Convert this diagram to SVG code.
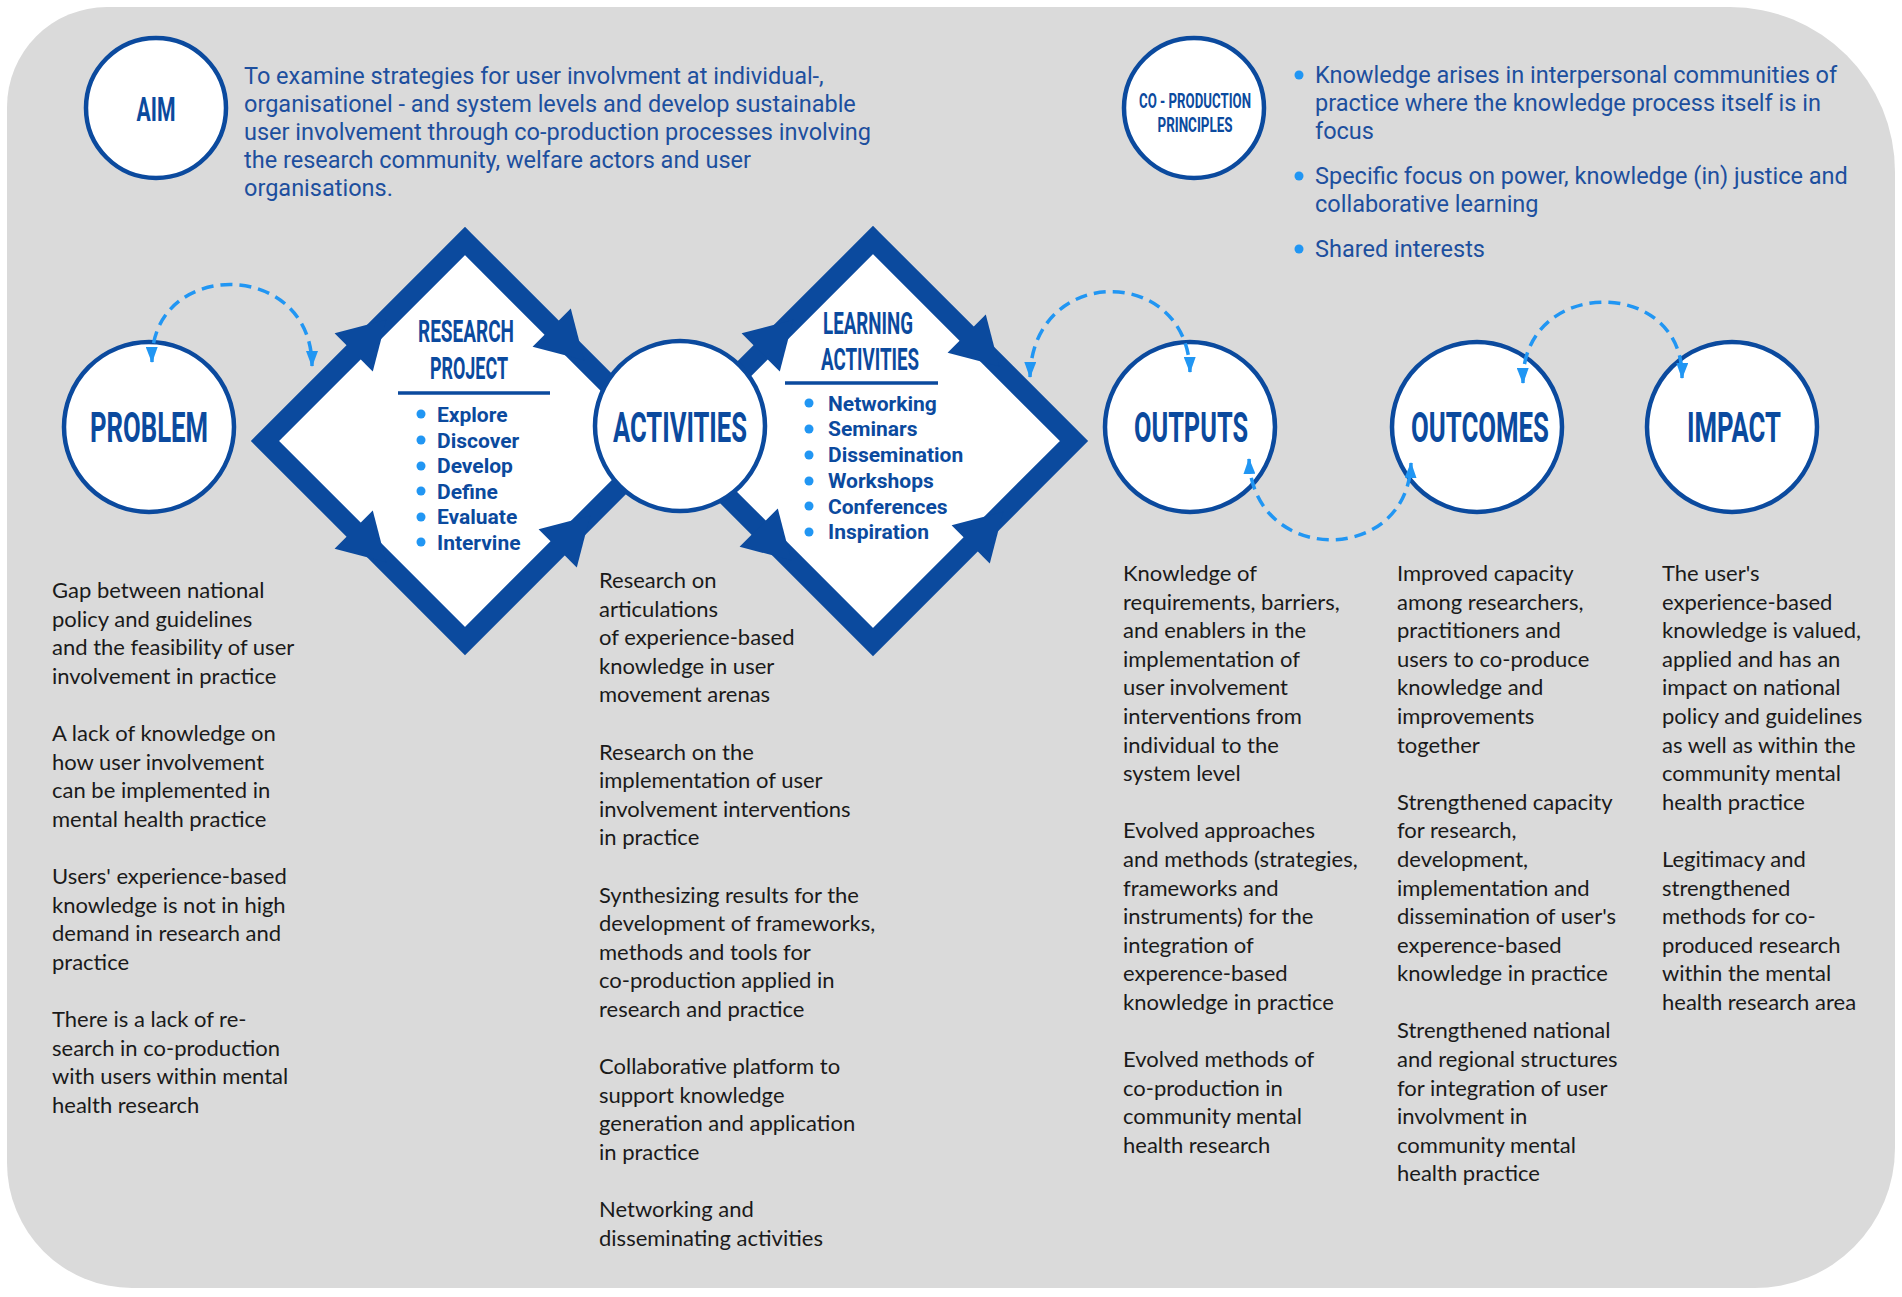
<svg xmlns="http://www.w3.org/2000/svg" xmlns:xlink="http://www.w3.org/1999/xlink" width="1902" height="1297" viewBox="0 0 1902 1297">
<style>
.bg{fill:#dadada}
.node{fill:#fff;stroke:#0b4a9e;stroke-width:4.5}
.dia{fill:#fff;stroke:#0b4a9e;stroke-width:20;stroke-linejoin:miter}
.hd{font-family:Roboto,"Liberation Sans",sans-serif;font-weight:700;fill:#0b4a9e;text-anchor:middle}
.li{font-family:Roboto,"Liberation Sans",sans-serif;font-weight:700;font-size:21px;fill:#0b4a9e}
.bl{fill:#2196f3}
.intro{font-family:Roboto,"Liberation Sans",sans-serif;font-size:23.5px;fill:#1d4f9e}
.body{font-family:Lato,"Liberation Sans",sans-serif;font-size:22px;fill:#1a1a1a}
.dash{fill:none;stroke:#2196f3;stroke-width:3.5;stroke-dasharray:12 7}
.ah{fill:#0b4a9e}
</style>
<defs>
<marker id="tip" viewBox="0 0 16 12" refX="15" refY="6" markerWidth="16" markerHeight="12" markerUnits="userSpaceOnUse" orient="auto-start-reverse">
<path d="M0,0 L16,6 L0,12 Z" fill="#2196f3"/>
</marker>
<path id="darr" d="M-16,-27 L30,0 L-16,27 Z"/>
</defs>

<path class="bg" d="M107,7 H1730 A165,165 0 0 1 1895,172 V1148 A140,140 0 0 1 1755,1288 H132 A125,125 0 0 1 7,1163 V107 A100,100 0 0 1 107,7 Z"/>

<g id="aim">
<circle class="node" cx="156" cy="108" r="70"/>
<text class="hd" x="156" y="121" font-size="34" textLength="39" lengthAdjust="spacingAndGlyphs">AIM</text>
<text class="intro" x="244" y="84">To examine strategies for user involvment at individual-,</text>
<text class="intro" x="244" y="112">organisationel - and system levels and develop sustainable</text>
<text class="intro" x="244" y="140">user involvement through co-production processes involving</text>
<text class="intro" x="244" y="168">the research community, welfare actors and user</text>
<text class="intro" x="244" y="196">organisations.</text>
</g>

<g id="principles">
<circle class="node" cx="1194" cy="108" r="70"/>
<text class="hd" x="1195" y="108" font-size="21" textLength="112" lengthAdjust="spacingAndGlyphs">CO - PRODUCTION</text>
<text class="hd" x="1195" y="132" font-size="21" textLength="75" lengthAdjust="spacingAndGlyphs">PRINCIPLES</text>
<circle class="bl" cx="1299" cy="75" r="4.5"/>
<text class="intro" x="1315" y="83">Knowledge arises in interpersonal communities of</text>
<text class="intro" x="1315" y="111">practice where the knowledge process itself is in</text>
<text class="intro" x="1315" y="139">focus</text>
<circle class="bl" cx="1299" cy="176" r="4.5"/>
<text class="intro" x="1315" y="184">Specific focus on power, knowledge (in) justice and</text>
<text class="intro" x="1315" y="212">collaborative learning</text>
<circle class="bl" cx="1299" cy="249" r="4.5"/>
<text class="intro" x="1315" y="257">Shared interests</text>
</g>

<g id="research-project">
<polygon class="dia" points="465,241 665,441 465,641 265,441"/>
<use href="#darr" class="ah" transform="translate(365,341) rotate(-45)"/>
<use href="#darr" class="ah" transform="translate(563,339) rotate(45)"/>
<use href="#darr" class="ah" transform="translate(365,541) rotate(45)"/>
<use href="#darr" class="ah" transform="translate(569,537) rotate(-45)"/>
<text class="hd" x="466" y="342" font-size="32" textLength="96" lengthAdjust="spacingAndGlyphs">RESEARCH</text>
<text class="hd" x="469" y="379" font-size="32" textLength="78" lengthAdjust="spacingAndGlyphs">PROJECT</text>
<line x1="398" y1="393" x2="550" y2="393" stroke="#0b4a9e" stroke-width="3.5"/>
<circle class="bl" cx="421" cy="414" r="4.5"/><text class="li" x="437" y="422">Explore</text>
<circle class="bl" cx="421" cy="440" r="4.5"/><text class="li" x="437" y="448">Discover</text>
<circle class="bl" cx="421" cy="466" r="4.5"/><text class="li" x="437" y="473">Develop</text>
<circle class="bl" cx="421" cy="491" r="4.5"/><text class="li" x="437" y="499">Define</text>
<circle class="bl" cx="421" cy="517" r="4.5"/><text class="li" x="437" y="524">Evaluate</text>
<circle class="bl" cx="421" cy="542" r="4.5"/><text class="li" x="437" y="550">Intervine</text>
</g>

<g id="learning-activities">
<polygon class="dia" points="873,240 1074,441 873,642 672,441"/>
<use href="#darr" class="ah" transform="translate(772,341) rotate(-45)"/>
<use href="#darr" class="ah" transform="translate(978,345) rotate(45)"/>
<use href="#darr" class="ah" transform="translate(770,539) rotate(45)"/>
<use href="#darr" class="ah" transform="translate(982,533) rotate(-45)"/>
<text class="hd" x="868" y="334" font-size="31" textLength="90" lengthAdjust="spacingAndGlyphs">LEARNING</text>
<text class="hd" x="870" y="370" font-size="31" textLength="98" lengthAdjust="spacingAndGlyphs">ACTIVITIES</text>
<line x1="785" y1="383" x2="938" y2="383" stroke="#0b4a9e" stroke-width="3.5"/>
<circle class="bl" cx="809" cy="403" r="4.5"/><text class="li" x="828" y="411">Networking</text>
<circle class="bl" cx="809" cy="429" r="4.5"/><text class="li" x="828" y="436">Seminars</text>
<circle class="bl" cx="809" cy="455" r="4.5"/><text class="li" x="828" y="462">Dissemination</text>
<circle class="bl" cx="809" cy="481" r="4.5"/><text class="li" x="828" y="488">Workshops</text>
<circle class="bl" cx="809" cy="506" r="4.5"/><text class="li" x="828" y="514">Conferences</text>
<circle class="bl" cx="809" cy="532" r="4.5"/><text class="li" x="828" y="539">Inspiration</text>
</g>

<g id="problem">
<circle class="node" cx="149" cy="427" r="85"/>
<text class="hd" x="149" y="442" font-size="42" textLength="118" lengthAdjust="spacingAndGlyphs">PROBLEM</text>
<text class="body" x="52" y="598">Gap between national</text>
<text class="body" x="52" y="627">policy and guidelines</text>
<text class="body" x="52" y="655">and the feasibility of user</text>
<text class="body" x="52" y="684">involvement in practice</text>
<text class="body" x="52" y="741">A lack of knowledge on</text>
<text class="body" x="52" y="770">how user involvement</text>
<text class="body" x="52" y="798">can be implemented in</text>
<text class="body" x="52" y="827">mental health practice</text>
<text class="body" x="52" y="884">Users' experience-based</text>
<text class="body" x="52" y="913">knowledge is not in high</text>
<text class="body" x="52" y="941">demand in research and</text>
<text class="body" x="52" y="970">practice</text>
<text class="body" x="52" y="1027">There is a lack of re-</text>
<text class="body" x="52" y="1056">search in co-production</text>
<text class="body" x="52" y="1084">with users within mental</text>
<text class="body" x="52" y="1113">health research</text>
</g>

<g id="activities">
<circle class="node" cx="680" cy="426" r="85"/>
<text class="hd" x="680" y="442" font-size="42" textLength="134" lengthAdjust="spacingAndGlyphs">ACTIVITIES</text>
<text class="body" x="599" y="588">Research on</text>
<text class="body" x="599" y="617">articulations</text>
<text class="body" x="599" y="645">of experience-based</text>
<text class="body" x="599" y="674">knowledge in user</text>
<text class="body" x="599" y="702">movement arenas</text>
<text class="body" x="599" y="760">Research on the</text>
<text class="body" x="599" y="788">implementation of user</text>
<text class="body" x="599" y="817">involvement interventions</text>
<text class="body" x="599" y="845">in practice</text>
<text class="body" x="599" y="903">Synthesizing results for the</text>
<text class="body" x="599" y="931">development of frameworks,</text>
<text class="body" x="599" y="960">methods and tools for</text>
<text class="body" x="599" y="988">co-production applied in</text>
<text class="body" x="599" y="1017">research and practice</text>
<text class="body" x="599" y="1074">Collaborative platform to</text>
<text class="body" x="599" y="1103">support knowledge</text>
<text class="body" x="599" y="1131">generation and application</text>
<text class="body" x="599" y="1160">in practice</text>
<text class="body" x="599" y="1217">Networking and</text>
<text class="body" x="599" y="1246">disseminating activities</text>
</g>

<g id="outputs">
<circle class="node" cx="1190" cy="427" r="85"/>
<text class="hd" x="1191" y="442" font-size="42" textLength="114" lengthAdjust="spacingAndGlyphs">OUTPUTS</text>
<text class="body" x="1123" y="581">Knowledge of</text>
<text class="body" x="1123" y="610">requirements, barriers,</text>
<text class="body" x="1123" y="638">and enablers in the</text>
<text class="body" x="1123" y="667">implementation of</text>
<text class="body" x="1123" y="695">user involvement</text>
<text class="body" x="1123" y="724">interventions from</text>
<text class="body" x="1123" y="753">individual to the</text>
<text class="body" x="1123" y="781">system level</text>
<text class="body" x="1123" y="838">Evolved approaches</text>
<text class="body" x="1123" y="867">and methods (strategies,</text>
<text class="body" x="1123" y="896">frameworks and</text>
<text class="body" x="1123" y="924">instruments) for the</text>
<text class="body" x="1123" y="953">integration of</text>
<text class="body" x="1123" y="981">experence-based</text>
<text class="body" x="1123" y="1010">knowledge in practice</text>
<text class="body" x="1123" y="1067">Evolved methods of</text>
<text class="body" x="1123" y="1096">co-production in</text>
<text class="body" x="1123" y="1124">community mental</text>
<text class="body" x="1123" y="1153">health research</text>
</g>

<g id="outcomes">
<circle class="node" cx="1477" cy="427" r="85"/>
<text class="hd" x="1480" y="442" font-size="42" textLength="138" lengthAdjust="spacingAndGlyphs">OUTCOMES</text>
<text class="body" x="1397" y="581">Improved capacity</text>
<text class="body" x="1397" y="610">among researchers,</text>
<text class="body" x="1397" y="638">practitioners and</text>
<text class="body" x="1397" y="667">users to co-produce</text>
<text class="body" x="1397" y="695">knowledge and</text>
<text class="body" x="1397" y="724">improvements</text>
<text class="body" x="1397" y="753">together</text>
<text class="body" x="1397" y="810">Strengthened capacity</text>
<text class="body" x="1397" y="838">for research,</text>
<text class="body" x="1397" y="867">development,</text>
<text class="body" x="1397" y="896">implementation and</text>
<text class="body" x="1397" y="924">dissemination of user's</text>
<text class="body" x="1397" y="953">experence-based</text>
<text class="body" x="1397" y="981">knowledge in practice</text>
<text class="body" x="1397" y="1038">Strengthened national</text>
<text class="body" x="1397" y="1067">and regional structures</text>
<text class="body" x="1397" y="1096">for integration of user</text>
<text class="body" x="1397" y="1124">involvment in</text>
<text class="body" x="1397" y="1153">community mental</text>
<text class="body" x="1397" y="1181">health practice</text>
</g>

<g id="impact">
<circle class="node" cx="1732" cy="427" r="85"/>
<text class="hd" x="1734" y="442" font-size="42" textLength="94" lengthAdjust="spacingAndGlyphs">IMPACT</text>
<text class="body" x="1662" y="581">The user's</text>
<text class="body" x="1662" y="610">experience-based</text>
<text class="body" x="1662" y="638">knowledge is valued,</text>
<text class="body" x="1662" y="667">applied and has an</text>
<text class="body" x="1662" y="695">impact on national</text>
<text class="body" x="1662" y="724">policy and guidelines</text>
<text class="body" x="1662" y="753">as well as within the</text>
<text class="body" x="1662" y="781">community mental</text>
<text class="body" x="1662" y="810">health practice</text>
<text class="body" x="1662" y="867">Legitimacy and</text>
<text class="body" x="1662" y="896">strengthened</text>
<text class="body" x="1662" y="924">methods for co-</text>
<text class="body" x="1662" y="953">produced research</text>
<text class="body" x="1662" y="981">within the mental</text>
<text class="body" x="1662" y="1010">health research area</text>
</g>

<g id="connectors">
<path class="dash" d="M152,362 C150,258 312,258 312,366" marker-start="url(#tip)" marker-end="url(#tip)"/>
<path class="dash" d="M1030,377 C1032,264 1188,264 1190,372" marker-start="url(#tip)" marker-end="url(#tip)"/>
<path class="dash" d="M1249,459 C1252,566 1408,566 1411,463" marker-start="url(#tip)" marker-end="url(#tip)"/>
<path class="dash" d="M1523,383 C1521,276 1684,276 1682,378" marker-start="url(#tip)" marker-end="url(#tip)"/>
</g>
</svg>
